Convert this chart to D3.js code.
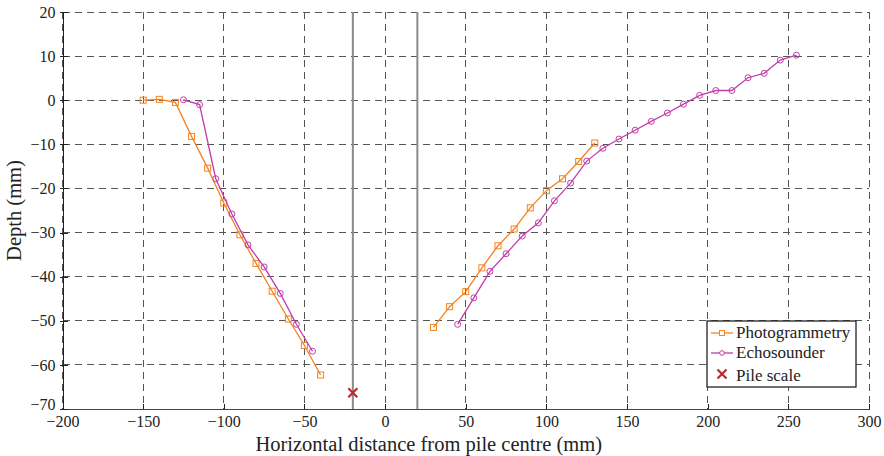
<!DOCTYPE html>
<html lang="en">
<head>
    <meta charset="utf-8" />
    <title>Depth profile</title>
    <style>
        body { margin: 0; background: #fff; }
        text { font-family: "Liberation Serif", "Times New Roman", serif !important; }
        .axis text { font-size: 16px; fill: #222; }
        .axis path, .axis line { stroke: #222; fill: none; shape-rendering: crispEdges; }
        .grid line { stroke: #555; stroke-dasharray: 7,5; shape-rendering: crispEdges; }
    </style>
</head>
<body>
    <div id="graph"></div>
    <script src="https://d3js.org/d3.v7.min.js"></script>
    <script>
        // photogrammetry, left and right faces of the scour hole
        var photoLeftX = [-150, -140, -130, -120, -110, -100, -90, -80, -70, -60, -50, -40];
        var photoLeftY = [0, 0.2, -0.5, -8.2, -15.4, -23.3, -30.5, -37, -43.3, -49.6, -55.6, -62.3];
        var photoRightX = [30, 40, 50, 60, 70, 80, 90, 100, 110, 120, 130];
        var photoRightY = [-51.5, -46.8, -43.4, -38, -33, -29.2, -24.4, -20.5, -17.8, -13.9, -9.7];

        // echosounder
        var echoLeftX = [-125, -115, -105, -95, -85, -75, -65, -55, -45];
        var echoLeftY = [0.1, -1, -17.8, -25.8, -32.8, -37.8, -43.8, -50.8, -56.9];
        var echoRightX = [45, 55, 65, 75, 85, 95, 105, 115, 125, 135, 145, 155, 165, 175, 185, 195, 205, 215, 225, 235, 245, 255];
        var echoRightY = [-50.8, -44.8, -38.8, -34.8, -30.8, -27.8, -22.8, -18.8, -13.8, -10.9, -8.8, -6.8, -4.8, -2.9, -0.9, 1.1, 2.2, 2.2, 5.1, 6.1, 9.1, 10.2];

        var pileEdges = [-20, 20];
        var pileScale = [{ x: -20, y: -66.3 }];

        var xTicks = [-200, -150, -100, -50, 0, 50, 100, 150, 200, 250, 300];
        var yTicks = [20, 10, 0, -10, -20, -30, -40, -50, -60, -70];
        var seriesNames = ["Photogrammetry", "Echosounder", "Pile scale"];

        var orange = "#f5821f", magenta = "#c23caa", red = "#c1272d";
        var serif = '"Liberation Serif", "Times New Roman", serif';

        var margin = { top: 12, right: 15, bottom: 47, left: 62.5 },
            width = 884 - margin.left - margin.right,
            height = 456 - margin.top - margin.bottom;

        var x = d3.scaleLinear().domain([-200, 300]).range([0, width]);
        var y = d3.scaleLinear().domain([-70, 20]).range([height, 0]);

        function zip(xs, ys) {
            return xs.map(function (v, i) { return { x: v, y: ys[i] }; });
        }

        var svg = d3.select("#graph").append("svg")
            .attr("width", 884)
            .attr("height", 456)
            .attr("font-family", serif)
            .append("g")
            .attr("transform", "translate(" + margin.left + "," + margin.top + ")");

        // dashed grid
        var grid = svg.append("g").attr("class", "grid");
        grid.selectAll(".gx").data(xTicks).enter().append("line")
            .attr("x1", function (d) { return x(d); })
            .attr("x2", function (d) { return x(d); })
            .attr("y1", 0).attr("y2", height);
        grid.selectAll(".gy").data(yTicks).enter().append("line")
            .attr("y1", function (d) { return y(d); })
            .attr("y2", function (d) { return y(d); })
            .attr("x1", 0).attr("x2", width);

        // pile edges
        svg.selectAll(".pile").data(pileEdges).enter().append("line")
            .attr("x1", function (d) { return x(d); })
            .attr("x2", function (d) { return x(d); })
            .attr("y1", 0).attr("y2", height)
            .style("stroke", "#8a8a8a")
            .style("stroke-width", 2);

        // axes
        svg.append("g")
            .attr("class", "x axis")
            .attr("transform", "translate(0," + height + ")")
            .call(d3.axisBottom(x).tickValues(xTicks).tickSizeInner(-5).tickSizeOuter(0).tickPadding(7))
            .attr("font-family", serif)
            .select(".domain").style("stroke", "#444");

        svg.append("g")
            .attr("class", "y axis")
            .call(d3.axisLeft(y).tickValues(yTicks).tickSizeInner(-5).tickSizeOuter(0).tickPadding(7))
            .attr("font-family", serif);

        svg.selectAll(".axis text").style("font-family", serif);
        svg.selectAll(".y.axis .tick line").attr("x1", -3);
        // the bottom label sits a little higher, like the original
        svg.selectAll(".y.axis .tick text").filter(function (d) { return d === -70; }).attr("dy", "0.05em");

        var line = d3.line()
            .x(function (d) { return x(d.x); })
            .y(function (d) { return y(d.y); });

        function drawSeries(pts, color, shape) {
            svg.append("path")
                .datum(pts)
                .attr("d", line)
                .style("fill", "none")
                .style("stroke", color)
                .style("stroke-width", 1.3);
            if (shape === "square") {
                svg.selectAll(null).data(pts).enter().append("rect")
                    .attr("x", function (d) { return x(d.x) - 3; })
                    .attr("y", function (d) { return y(d.y) - 3; })
                    .attr("width", 6).attr("height", 6)
                    .style("fill", "none")
                    .style("stroke", color)
                    .style("stroke-width", 1);
            } else {
                svg.selectAll(null).data(pts).enter().append("circle")
                    .attr("cx", function (d) { return x(d.x); })
                    .attr("cy", function (d) { return y(d.y); })
                    .attr("r", 3)
                    .style("fill", "none")
                    .style("stroke", color)
                    .style("stroke-width", 1);
            }
        }

        drawSeries(zip(photoLeftX, photoLeftY), orange, "square");
        drawSeries(zip(photoRightX, photoRightY), orange, "square");
        drawSeries(zip(echoLeftX, echoLeftY), magenta, "circle");
        drawSeries(zip(echoRightX, echoRightY), magenta, "circle");

        function cross(g, cx, cy, s) {
            g.append("path")
                .attr("d", "M" + (cx - s) + "," + (cy - s) + "L" + (cx + s) + "," + (cy + s) +
                           "M" + (cx - s) + "," + (cy + s) + "L" + (cx + s) + "," + (cy - s))
                .style("stroke", red)
                .style("stroke-width", 2.2);
        }
        pileScale.forEach(function (d) { cross(svg, x(d.x), y(d.y), 4.5); });

        // axis titles
        svg.append("text")
            .attr("x", width / 2 - 37)
            .attr("y", height + 42)
            .style("text-anchor", "middle")
            .style("font-size", "20.5px")
            .style("fill", "#222")
            .text("Horizontal distance from pile centre (mm)");

        svg.append("text")
            .attr("transform", "rotate(-90)")
            .attr("x", -(height / 2) + 0)
            .attr("y", -42)
            .style("text-anchor", "middle")
            .style("font-size", "20.5px")
            .style("fill", "#222")
            .text("Depth (mm)");

        // legend
        var lg = svg.append("g").attr("transform", "translate(" + (707 - margin.left) + "," + (321 - margin.top) + ")");
        lg.append("rect")
            .attr("width", 149).attr("height", 66)
            .style("fill", "#fff")
            .style("stroke", "#222")
            .style("stroke-width", 1.3);
        var rowY = [12, 32, 55];
        seriesNames.forEach(function (name, i) {
            var row = lg.append("g").attr("transform", "translate(0," + rowY[i] + ")");
            if (i < 2) {
                var c = i === 0 ? orange : magenta;
                row.append("line").attr("x1", 4).attr("x2", 26).attr("y1", 0).attr("y2", 0)
                    .style("stroke", c).style("stroke-width", 1.3);
                if (i === 0) {
                    row.append("rect").attr("x", 12.5).attr("y", -2.5).attr("width", 5).attr("height", 5)
                        .style("fill", "#fff").style("stroke", c);
                } else {
                    row.append("circle").attr("cx", 15).attr("cy", 0).attr("r", 2.3)
                        .style("fill", "#fff").style("stroke", c);
                }
            } else {
                cross(row, 15, -2, 4.5);
            }
            row.append("text")
                .attr("x", 29)
                .attr("y", 5)
                .style("font-size", "17px")
                .style("font-family", serif)
                .style("fill", "#222")
                .text(name);
        });
    </script>
</body>
</html>
